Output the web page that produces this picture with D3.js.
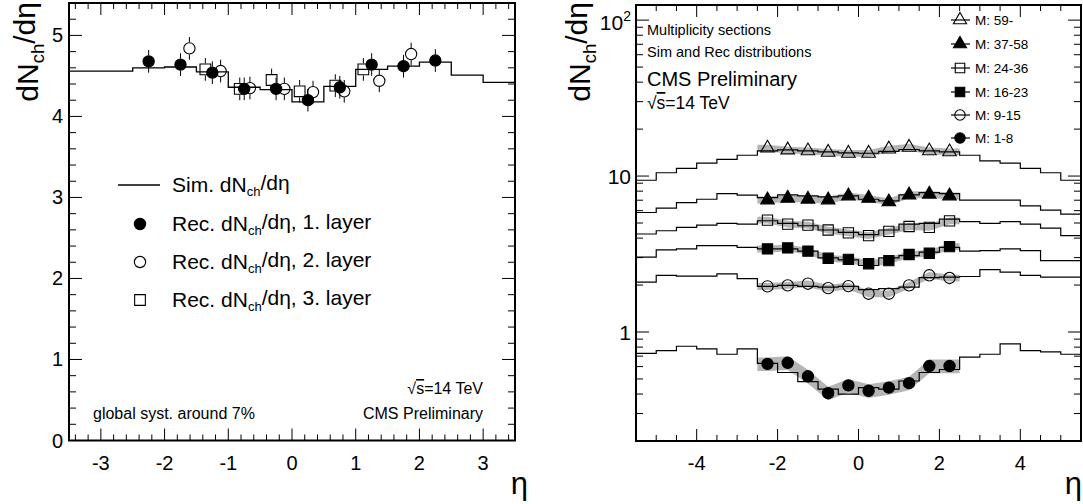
<!DOCTYPE html>
<html>
<head>
<meta charset="utf-8">
<script src="https://cdn.jsdelivr.net/npm/d3@7"></script>
<style>
  body { margin: 0; background: #fff; }
  svg { display: block; }
  text { font-family: "Liberation Sans", Arial, Helvetica, sans-serif; fill: #000; }
</style>
</head>
<body>
<svg width="1083" height="504"></svg>
<script>
// ---------- left panel: dN/deta per layer ----------
const leftEdges = [-3.5, -3, -2.5, -2, -1.5, -1, -0.5, 0, 0.5, 1, 1.5, 2, 2.5, 3, 3.5];
const simLeft = [4.56, 4.56, 4.60, 4.61, 4.55, 4.36, 4.33, 4.18, 4.37, 4.58, 4.62, 4.67, 4.51, 4.42];

const layer1Eta = [-2.25, -1.75, -1.25, -0.75, -0.25, 0.25, 0.75, 1.25, 1.75, 2.25];
const layer1Val = [4.68, 4.64, 4.54, 4.34, 4.34, 4.20, 4.36, 4.64, 4.62, 4.69];
const layer2Eta = [-1.61, -1.12, -0.66, -0.12, 0.33, 0.82, 1.37, 1.87];
const layer2Val = [4.84, 4.56, 4.35, 4.34, 4.30, 4.31, 4.44, 4.77];
const layer3Eta = [-1.36, -0.82, -0.32, 0.12, 0.68, 1.12];
const layer3Val = [4.58, 4.34, 4.45, 4.31, 4.38, 4.58];
const layerErr = 0.14;

const leftXTicks = [-3, -2, -1, 0, 1, 2, 3];
const leftYTicks = [0, 1, 2, 3, 4, 5];

// ---------- right panel: multiplicity sections ----------
const rightEdges = [-5.5, -5, -4.5, -4, -3.5, -3, -2.5, -2, -1.5, -1, -0.5, 0,
                    0.5, 1, 1.5, 2, 2.5, 3, 3.5, 4, 4.5, 5, 5.5];
const pointEta = [-2.25, -1.75, -1.25, -0.75, -0.25, 0.25, 0.75, 1.25, 1.75, 2.25];

const sectionNames = ["M: 59-", "M: 37-58", "M: 24-36", "M: 16-23", "M: 9-15", "M: 1-8"];
const sectionMarkers = ["triangle-open", "triangle", "square-open", "square", "circle-open", "circle"];

const simM59 = [9.4, 10.5, 11.2, 12.1, 12.8, 13.6, 14.5, 14.7, 14.5, 14.3, 14.1, 14.0,
                14.4, 14.8, 14.5, 14.3, 13.6, 12.5, 12.1, 11.2, 10.5, 9.4];
const simM37 = [5.84, 6.22, 6.76, 7.1, 7.71, 7.54, 7.28, 7.57, 7.46, 7.35, 7.46, 7.1,
                6.93, 7.57, 7.83, 7.71, 7.0, 7.0, 7.0, 6.44, 6.04, 5.70];
const simM24 = [4.25, 4.46, 4.69, 4.85, 4.97, 4.92, 5.17, 4.97, 4.80, 4.51, 4.36, 4.21,
                4.51, 4.92, 4.97, 5.30, 5.11, 4.97, 5.11, 4.92, 4.64, 4.15];
const simM16 = [3.02, 3.36, 3.41, 3.58, 3.58, 3.49, 3.41, 3.41, 3.30, 2.99, 2.90, 2.67,
                2.99, 3.09, 3.25, 3.49, 3.30, 3.33, 3.41, 3.33, 2.87, 2.87];
const simM9 = [2.09, 2.31, 2.28, 2.28, 2.36, 2.20, 1.96, 1.99, 1.96, 1.94, 1.96, 1.87,
               1.90, 1.94, 2.23, 2.25, 2.27, 2.51, 2.42, 2.31, 2.25, 2.25];
const simM1 = [0.73, 0.76, 0.81, 0.78, 0.72, 0.78, 0.63, 0.55, 0.48, 0.43, 0.40, 0.44,
               0.43, 0.485, 0.55, 0.575, 0.69, 0.72, 0.84, 0.76, 0.745, 0.72];

const recM59 = [15.1, 14.7, 14.5, 14.2, 14.0, 14.0, 14.9, 15.3, 14.5, 14.3];
const recM37 = [7.03, 7.21, 7.11, 7.03, 7.46, 7.21, 6.83, 7.57, 7.65, 7.46];
const recM24 = [5.22, 4.92, 4.85, 4.51, 4.32, 4.15, 4.42, 4.75, 4.69, 5.16];
const recM16 = [3.41, 3.46, 3.30, 2.97, 2.92, 2.74, 2.87, 3.14, 3.20, 3.53];
const recM9 = [1.96, 1.99, 2.04, 1.91, 1.97, 1.76, 1.76, 1.99, 2.31, 2.22];
const recM1 = [0.625, 0.635, 0.52, 0.405, 0.455, 0.42, 0.44, 0.47, 0.605, 0.605];
// relative systematic band per section
const bandRel = [0.05, 0.05, 0.05, 0.05, 0.05, 0.10];

const rightXTicks = [-4, -2, 0, 2, 4];
const rightYTicks = [1, 10, 100];

const simSets = [simM59, simM37, simM24, simM16, simM9, simM1];
const recSets = [recM59, recM37, recM24, recM16, recM9, recM1];

const svg = d3.select("svg");

// ---------- helpers ----------
function marker(g, type, x, y, s) {
  const open = type.endsWith("-open");
  const base = type.replace("-open", "");
  const sym = base === "triangle" ? d3.symbolTriangle : base === "square" ? d3.symbolSquare : d3.symbolCircle;
  g.append("path")
    .attr("d", d3.symbol().type(sym).size(s)())
    .attr("transform", `translate(${x},${y})`)
    .attr("fill", open ? "none" : "#000")
    .attr("stroke", "#000")
    .attr("stroke-width", 1.1);
}

function dndeta(sel, tail) {
  // writes dN_ch/deta + optional tail text
  sel.append("tspan").text("dN");
  sel.append("tspan").attr("font-size", "0.62em").attr("dy", "0.3em").text("ch");
  sel.append("tspan").attr("dy", "-0.3em").text("/dη" + (tail || ""));
}

function sqrtS(sel) {
  sel.append("tspan").text("√");
  sel.append("tspan").style("text-decoration", "overline").text("s");
  sel.append("tspan").text("=14 TeV");
}

function stepPath(x, y, edges, vals) {
  const pts = vals.map((v, i) => [edges[i], v]);
  pts.push([edges[edges.length - 1], vals[vals.length - 1]]);
  return d3.line().x(d => x(d[0])).y(d => y(d[1])).curve(d3.curveStepAfter)(pts);
}

function frameTicks(g, x, y, xMajor, xMinor, yMajor, yMinor) {
  const [x0, x1] = x.range();
  const [y0, y1] = y.range();
  const tk = g.append("g").attr("stroke", "#000").attr("stroke-width", 1);
  xMajor.forEach(v => {
    tk.append("line").attr("x1", x(v)).attr("x2", x(v)).attr("y1", y0).attr("y2", y0 - 12);
    tk.append("line").attr("x1", x(v)).attr("x2", x(v)).attr("y1", y1).attr("y2", y1 + 12);
  });
  xMinor.forEach(v => {
    tk.append("line").attr("x1", x(v)).attr("x2", x(v)).attr("y1", y0).attr("y2", y0 - 6);
    tk.append("line").attr("x1", x(v)).attr("x2", x(v)).attr("y1", y1).attr("y2", y1 + 6);
  });
  yMajor.forEach(v => {
    tk.append("line").attr("y1", y(v)).attr("y2", y(v)).attr("x1", x0).attr("x2", x0 + 13);
    tk.append("line").attr("y1", y(v)).attr("y2", y(v)).attr("x1", x1).attr("x2", x1 - 13);
  });
  yMinor.forEach(v => {
    tk.append("line").attr("y1", y(v)).attr("y2", y(v)).attr("x1", x0).attr("x2", x0 + 7);
    tk.append("line").attr("y1", y(v)).attr("y2", y(v)).attr("x1", x1).attr("x2", x1 - 7);
  });
  g.append("rect")
    .attr("x", x0).attr("y", y1)
    .attr("width", x1 - x0).attr("height", y0 - y1)
    .attr("fill", "none").attr("stroke", "#000").attr("stroke-width", 2);
}

// ================= LEFT PANEL =================
const xL = d3.scaleLinear().domain([-3.5, 3.5]).range([69, 515]);
const yL = d3.scaleLinear().domain([0, 5.4]).range([440.5, 3]);
const gL = svg.append("g");

// sim histogram
gL.append("path")
  .attr("d", stepPath(xL, yL, leftEdges, simLeft))
  .attr("fill", "none").attr("stroke", "#000").attr("stroke-width", 1.3);

// reconstructed points with error bars
const layers = [
  { eta: layer1Eta, val: layer1Val, m: "circle", s: 100 },
  { eta: layer2Eta, val: layer2Val, m: "circle-open", s: 100 },
  { eta: layer3Eta, val: layer3Val, m: "square-open", s: 115 }
];
layers.forEach(L => {
  L.eta.forEach((e, i) => {
    const cx = xL(e), cy = yL(L.val[i]);
    const r = 6;
    gL.append("line").attr("x1", cx).attr("x2", cx)
      .attr("y1", yL(L.val[i] + layerErr)).attr("y2", cy - r)
      .attr("stroke", "#000").attr("stroke-width", 1);
    gL.append("line").attr("x1", cx).attr("x2", cx)
      .attr("y1", cy + r).attr("y2", yL(L.val[i] - layerErr))
      .attr("stroke", "#000").attr("stroke-width", 1);
    marker(gL, L.m, cx, cy, L.s);
  });
});

const minorL = d3.range(-3.4, 3.45, 0.2).filter(v => Math.abs(v - Math.round(v)) > 0.05);
const minorLY = d3.range(0.2, 5.4, 0.2).filter(v => Math.abs(v - Math.round(v)) > 0.05);
frameTicks(gL, xL, yL, leftXTicks, minorL, leftYTicks, minorLY);

gL.selectAll(".xt").data(leftXTicks).enter().append("text")
  .attr("x", d => xL(d)).attr("y", 470)
  .attr("text-anchor", "middle").attr("font-size", 20)
  .text(d => d);
gL.selectAll(".yt").data(leftYTicks).enter().append("text")
  .attr("x", 63).attr("y", d => yL(d) + 7)
  .attr("text-anchor", "end").attr("font-size", 20)
  .text(d => d);

gL.append("text").attr("transform", "translate(38,2) rotate(-90)")
  .attr("text-anchor", "end").attr("font-size", 30)
  .call(dndeta);
gL.append("text").attr("x", 528).attr("y", 494).attr("text-anchor", "end")
  .attr("font-size", 31).text("η");

// legend
const legY = [185, 224, 262, 300];
gL.append("line").attr("x1", 118).attr("x2", 160).attr("y1", legY[0]).attr("y2", legY[0])
  .attr("stroke", "#000").attr("stroke-width", 1.3);
gL.append("text").attr("x", 172).attr("y", legY[0] + 7).attr("font-size", 21)
  .call(t => {
    t.append("tspan").text("Sim. ");
    dndeta(t, "");
  });
layers.forEach((L, i) => {
  marker(gL, L.m, 140, legY[i + 1], L.s);
  gL.append("text").attr("x", 172).attr("y", legY[i + 1] + 7).attr("font-size", 21)
    .call(t => {
      t.append("tspan").text("Rec. ");
      dndeta(t, ", " + (i + 1) + ". layer");
    });
});

gL.append("text").attr("x", 483).attr("y", 394).attr("text-anchor", "end")
  .attr("font-size", 16).call(sqrtS);
gL.append("text").attr("x", 93).attr("y", 419).attr("font-size", 16)
  .text("global syst. around 7%");
gL.append("text").attr("x", 483).attr("y", 419).attr("text-anchor", "end")
  .attr("font-size", 16).text("CMS Preliminary");

// ================= RIGHT PANEL =================
const xR = d3.scaleLinear().domain([-5.5, 5.5]).range([636, 1081]);
const yR = d3.scaleLog().domain([0.2, 125]).range([441, 5]);
const gR = svg.append("g");

// systematic bands
const bandArea = d3.area()
  .x(d => xR(d[0])).y0(d => yR(d[1] * (1 - d[2]))).y1(d => yR(d[1] * (1 + d[2])));
recSets.forEach((rec, k) => {
  const pts = [[-2.5, rec[0], bandRel[k]]];
  rec.forEach((v, i) => pts.push([pointEta[i], v, bandRel[k]]));
  pts.push([2.5, rec[rec.length - 1], bandRel[k]]);
  gR.append("path").attr("d", bandArea(pts)).attr("fill", "#b5b5b5");
});

// sim histograms
simSets.forEach(sim => {
  gR.append("path")
    .attr("d", stepPath(xR, yR, rightEdges, sim))
    .attr("fill", "none").attr("stroke", "#000").attr("stroke-width", 1.2);
});

// rec points
recSets.forEach((rec, k) => {
  rec.forEach((v, i) => {
    marker(gR, sectionMarkers[k], xR(pointEta[i]), yR(v),
      sectionMarkers[k].startsWith("triangle") ? 80 : sectionMarkers[k].startsWith("square") ? 105 : 100);
  });
});

const minorR = d3.range(-5, 5.1, 0.5).filter(v => !rightXTicks.includes(v));
const minorRY = [];
[0.1, 1, 10].forEach(dec => [2, 3, 4, 5, 6, 7, 8, 9].forEach(m => {
  const v = dec * m;
  if (v >= 0.2 && v <= 125) minorRY.push(v);
}));
frameTicks(gR, xR, yR, rightXTicks, minorR, rightYTicks, minorRY);

gR.selectAll(".xt").data(rightXTicks).enter().append("text")
  .attr("x", d => xR(d)).attr("y", 470)
  .attr("text-anchor", "middle").attr("font-size", 20)
  .text(d => d);
gR.append("text").attr("x", 631).attr("y", yR(1) + 8).attr("text-anchor", "end")
  .attr("font-size", 21).text("1");
gR.append("text").attr("x", 631).attr("y", yR(10) + 8).attr("text-anchor", "end")
  .attr("font-size", 21).text("10");
gR.append("text").attr("x", 631).attr("y", yR(100) + 10).attr("text-anchor", "end")
  .attr("font-size", 21)
  .call(t => {
    t.append("tspan").text("10");
    t.append("tspan").attr("font-size", 14).attr("dy", -9).text("2");
  });

gR.append("text").attr("transform", "translate(590,2) rotate(-90)")
  .attr("text-anchor", "end").attr("font-size", 30)
  .call(dndeta);
gR.append("text").attr("x", 1082).attr("y", 494).attr("text-anchor", "end")
  .attr("font-size", 31).text("η");

gR.append("text").attr("x", 647).attr("y", 35).attr("font-size", 14.5).text("Multiplicity sections");
gR.append("text").attr("x", 647).attr("y", 57).attr("font-size", 14.5).text("Sim and Rec distributions");
gR.append("text").attr("x", 647).attr("y", 86).attr("font-size", 20).text("CMS Preliminary");
gR.append("text").attr("x", 647).attr("y", 109).attr("font-size", 17.5).call(sqrtS);

// legend
const legRY = [20, 44, 68, 92, 115, 138];
sectionNames.forEach((name, k) => {
  gR.append("line").attr("x1", 951).attr("x2", 970).attr("y1", legRY[k]).attr("y2", legRY[k])
    .attr("stroke", "#000").attr("stroke-width", 1.2);
  marker(gR, sectionMarkers[k], 960, legRY[k],
    sectionMarkers[k].startsWith("triangle") ? 75 : sectionMarkers[k].startsWith("square") ? 90 : 85);
  gR.append("text").attr("x", 975).attr("y", legRY[k] + 5).attr("font-size", 13.5).text(name);
});
</script>
</body>
</html>
